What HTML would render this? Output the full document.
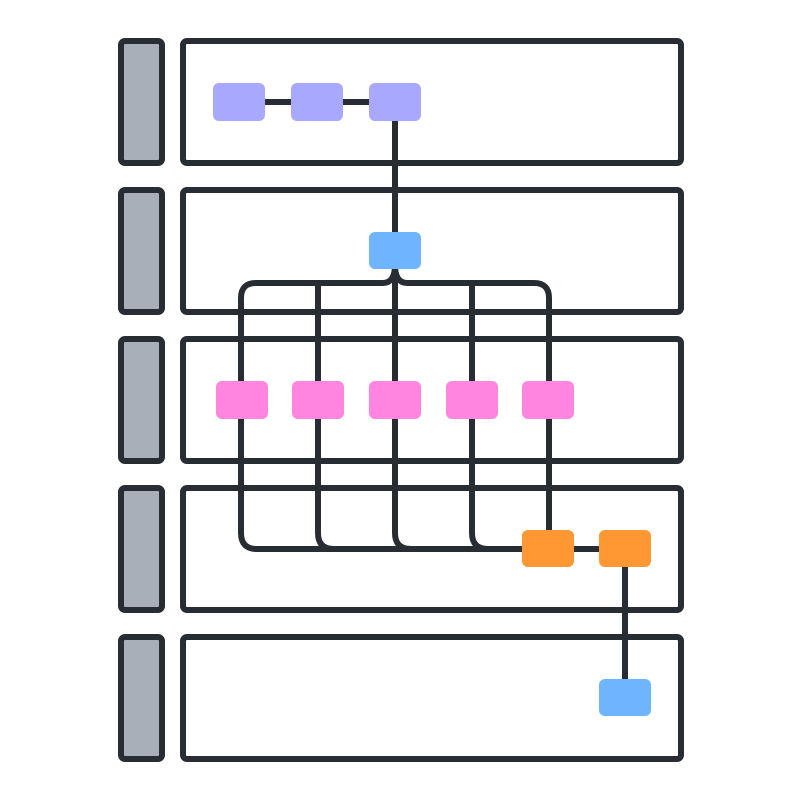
<!DOCTYPE html>
<html><head><meta charset="utf-8"><style>
html,body{margin:0;padding:0;background:#fff;}
svg{display:block;}
</style></head><body>
<svg width="801" height="800" viewBox="0 0 801 800" xmlns="http://www.w3.org/2000/svg">
<g stroke="#282c33" stroke-width="6" stroke-linejoin="round">
  <rect x="121" y="41" width="41" height="122" rx="4" fill="#a9afb8"/>
  <rect x="121" y="190" width="41" height="122" rx="4" fill="#a9afb8"/>
  <rect x="121" y="339" width="41" height="122" rx="4" fill="#a9afb8"/>
  <rect x="121" y="488" width="41" height="122" rx="4" fill="#a9afb8"/>
  <rect x="121" y="637" width="41" height="122" rx="4" fill="#a9afb8"/>
  <rect x="183" y="41" width="498" height="122" rx="4" fill="#fff"/>
  <rect x="183" y="190" width="498" height="122" rx="4" fill="#fff"/>
  <rect x="183" y="339" width="498" height="122" rx="4" fill="#fff"/>
  <rect x="183" y="488" width="498" height="122" rx="4" fill="#fff"/>
  <rect x="183" y="637" width="498" height="122" rx="4" fill="#fff"/>
</g>
<g stroke="#282c33" stroke-width="6" fill="none">
  <path d="M239 102 H395"/>
  <path d="M395 102 V251"/>
  <path d="M395 265 Q395 283 383 283 H256 Q241 283 241 298 V400"/>
  <path d="M395 265 Q395 283 407 283 H534 Q549 283 549 298 V548"/>
  <path d="M318 283 V400"/>
  <path d="M395 265 V400"/>
  <path d="M472 283 V400"/>
  <path d="M241 400 V533 Q241 549 257 549 H625"/>
  <path d="M318 400 V533 Q318 549 334 549"/>
  <path d="M395 400 V533 Q395 549 411 549"/>
  <path d="M472 400 V533 Q472 549 488 549"/>
  <path d="M625 549 V697"/>
</g>
<g>
  <rect x="213" y="83" width="52" height="38" rx="6" fill="#a8a8ff"/>
  <rect x="291" y="83" width="52" height="38" rx="6" fill="#a8a8ff"/>
  <rect x="369" y="83" width="52" height="38" rx="6" fill="#a8a8ff"/>
  <rect x="369" y="232" width="52" height="37" rx="6" fill="#6eb4ff"/>
  <rect x="216" y="381" width="52" height="38" rx="6" fill="#ff85e0"/>
  <rect x="292" y="381" width="52" height="38" rx="6" fill="#ff85e0"/>
  <rect x="369" y="381" width="52" height="38" rx="6" fill="#ff85e0"/>
  <rect x="446" y="381" width="52" height="38" rx="6" fill="#ff85e0"/>
  <rect x="522" y="381" width="52" height="38" rx="6" fill="#ff85e0"/>
  <rect x="522" y="530" width="52" height="37" rx="6" fill="#ff9733"/>
  <rect x="599" y="530" width="52" height="37" rx="6" fill="#ff9733"/>
  <rect x="599" y="679" width="52" height="37" rx="6" fill="#6eb4ff"/>
</g>
</svg>
</body></html>
